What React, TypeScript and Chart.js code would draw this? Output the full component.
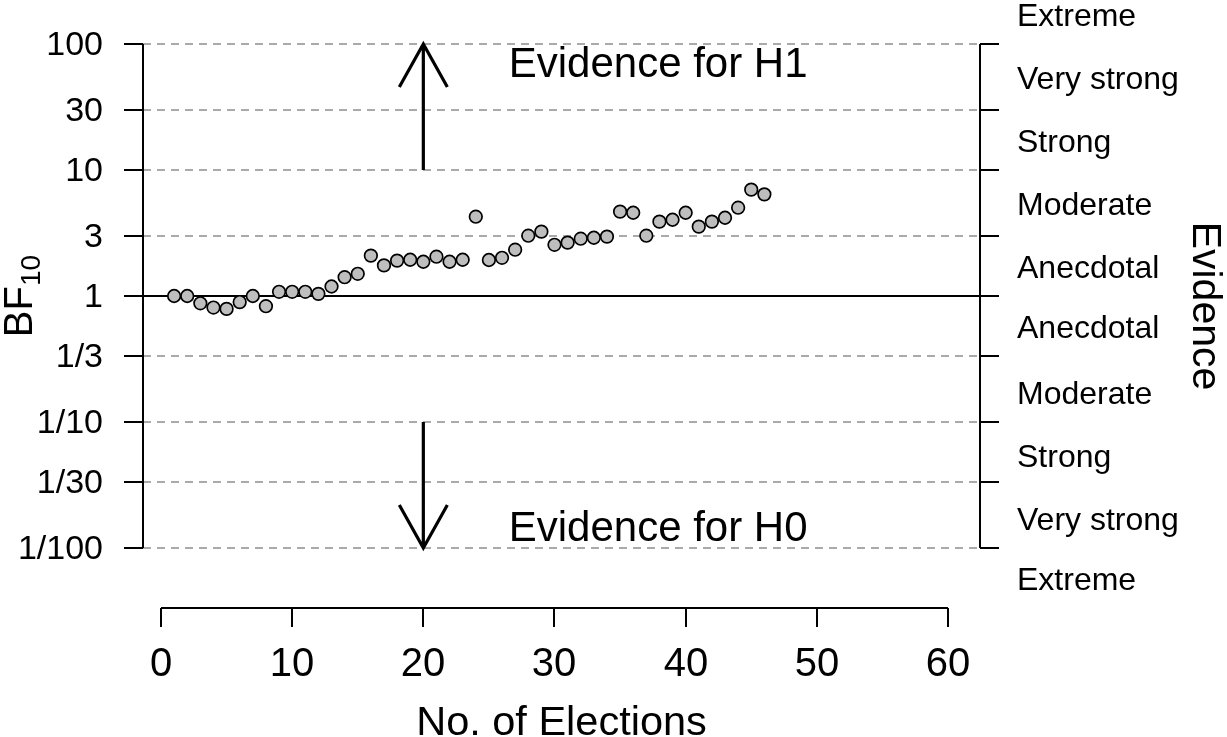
import React, { useEffect, useRef } from "react";
import { Chart, registerables } from "chart.js";

Chart.register(...registerables);

const FONT = '"Liberation Sans", Arial, Helvetica, sans-serif';

// ---- data ----
const electionNumbers = [
  1, 2, 3, 4, 5, 6, 7, 8, 9, 10, 11, 12, 13, 14, 15, 16, 17, 18, 19, 20, 21, 22, 23,
  24, 25, 26, 27, 28, 29, 30, 31, 32, 33, 34, 35, 36, 37, 38, 39, 40, 41, 42, 43, 44, 45, 46,
];
const bf10Values = [
  1.0, 1.0, 0.875, 0.81, 0.79, 0.895, 1.0, 0.83, 1.08, 1.08, 1.08, 1.04, 1.19, 1.41, 1.5,
  2.09, 1.75, 1.91, 1.94, 1.87, 2.05, 1.87, 1.94, 4.26, 1.93, 2.01, 2.33, 3.01, 3.24, 2.55,
  2.65, 2.85, 2.9, 2.96, 4.67, 4.58, 3.01, 3.89, 4.03, 4.58, 3.55, 3.89, 4.18, 5.02, 6.98, 6.41,
];

const yTickValues = [0.01, 1 / 30, 0.1, 1 / 3, 1, 3, 10, 30, 100];
const yTickLabels = ["1/100", "1/30", "1/10", "1/3", "1", "3", "10", "30", "100"];
const xTickValues = [0, 10, 20, 30, 40, 50, 60];
const xTickLabels = ["0", "10", "20", "30", "40", "50", "60"];

const evidenceLabels = [
  "Extreme", "Very strong", "Strong", "Moderate", "Anecdotal",
  "Anecdotal", "Moderate", "Strong", "Very strong", "Extreme",
];
const evidenceLabelValues = [173.2, 54.77, 17.32, 5.477, 1.732, 0.5774, 0.1732, 0.05477, 0.01732, 0.005774];

const arrowX = 20;
const upArrowFrom = 10;
const upArrowTo = 100;
const downArrowFrom = 0.1;
const downArrowTo = 0.01;

const h1Text = "Evidence for H1";
const h0Text = "Evidence for H0";
const hTextX = 37.9;
const h1TextY = 54.77;
const h0TextY = 0.01137;

const xTitle = "No. of Elections";
const yTitleMain = "BF";
const yTitleSub = "10";
const rightTitle = "Evidence";

const X_MIN = -1.372;
const X_MAX = 62.44;
const Y_MIN = 0.01;
const Y_MAX = 100;

export default function App() {
  const ref = useRef<HTMLCanvasElement | null>(null);

  useEffect(() => {
    if (!ref.current) return;

    const decor = {
      id: "bfDecor",
      beforeDatasetsDraw(chart: any) {
        const ctx = chart.ctx as CanvasRenderingContext2D;
        const xs = chart.scales.x;
        const ys = chart.scales.y;
        const area = chart.chartArea;
        ctx.save();

        // dashed grid lines
        ctx.strokeStyle = "#aaaaaa";
        ctx.lineWidth = 2;
        ctx.setLineDash([8, 6]);
        yTickValues.forEach((v) => {
          if (v === 1) return;
          const y = Math.round(ys.getPixelForValue(v));
          ctx.beginPath();
          ctx.moveTo(area.left, y);
          ctx.lineTo(area.right, y);
          ctx.stroke();
        });
        ctx.setLineDash([]);

        // solid line at BF = 1
        ctx.strokeStyle = "#000";
        ctx.lineWidth = 2;
        const y1 = Math.round(ys.getPixelForValue(1));
        ctx.beginPath();
        ctx.moveTo(area.left, y1);
        ctx.lineTo(area.right, y1);
        ctx.stroke();

        // left axis
        const yTop = ys.getPixelForValue(Y_MAX);
        const yBot = ys.getPixelForValue(Y_MIN);
        ctx.beginPath();
        ctx.moveTo(area.left, yTop);
        ctx.lineTo(area.left, yBot);
        ctx.stroke();
        // right axis
        ctx.beginPath();
        ctx.moveTo(area.right, yTop);
        ctx.lineTo(area.right, yBot);
        ctx.stroke();

        ctx.fillStyle = "#000";
        ctx.font = `34px ${FONT}`;
        ctx.textAlign = "right";
        ctx.textBaseline = "middle";
        yTickValues.forEach((v, i) => {
          const y = Math.round(ys.getPixelForValue(v));
          ctx.beginPath();
          ctx.moveTo(area.left - 19, y);
          ctx.lineTo(area.left, y);
          ctx.stroke();
          ctx.beginPath();
          ctx.moveTo(area.right, y);
          ctx.lineTo(area.right + 19, y);
          ctx.stroke();
          ctx.fillText(yTickLabels[i], area.left - 40, y + 2);
        });

        // evidence category labels
        ctx.font = `32px ${FONT}`;
        ctx.textAlign = "left";
        evidenceLabels.forEach((lab, i) => {
          const y = ys.getPixelForValue(evidenceLabelValues[i]);
          ctx.fillText(lab, area.right + 37, y + 3);
        });

        // x axis
        const xAxisY = area.bottom + 60;
        const x0 = xs.getPixelForValue(xTickValues[0]);
        const x1 = xs.getPixelForValue(xTickValues[xTickValues.length - 1]);
        ctx.beginPath();
        ctx.moveTo(x0, xAxisY);
        ctx.lineTo(x1, xAxisY);
        ctx.stroke();
        ctx.font = `40px ${FONT}`;
        ctx.textAlign = "center";
        ctx.textBaseline = "alphabetic";
        xTickValues.forEach((v, i) => {
          const x = Math.round(xs.getPixelForValue(v));
          ctx.beginPath();
          ctx.moveTo(x, xAxisY);
          ctx.lineTo(x, xAxisY + 19);
          ctx.stroke();
          ctx.fillText(xTickLabels[i], x, xAxisY + 68);
        });

        // x title
        ctx.font = `41.5px ${FONT}`;
        ctx.fillText(xTitle, (area.left + area.right) / 2, 735);

        // y title BF_10
        const yc = (area.top + area.bottom) / 2;
        ctx.save();
        ctx.translate(32, yc);
        ctx.rotate(-Math.PI / 2);
        ctx.textAlign = "left";
        ctx.font = `40px ${FONT}`;
        const wMain = ctx.measureText(yTitleMain).width;
        ctx.font = `28px ${FONT}`;
        const wSub = ctx.measureText(yTitleSub).width;
        const start = -(wMain + wSub) / 2;
        ctx.font = `40px ${FONT}`;
        ctx.fillText(yTitleMain, start, 0);
        ctx.font = `28px ${FONT}`;
        ctx.fillText(yTitleSub, start + wMain, 8);
        ctx.restore();

        // right title
        ctx.save();
        ctx.translate(1193, yc + 10);
        ctx.rotate(Math.PI / 2);
        ctx.textAlign = "center";
        ctx.font = `41px ${FONT}`;
        ctx.fillText(rightTitle, 0, 0);
        ctx.restore();

        // arrows
        ctx.lineWidth = 3.2;
        ctx.lineCap = "butt";
        const ax = xs.getPixelForValue(arrowX);
        const uA = ys.getPixelForValue(upArrowFrom);
        const uB = ys.getPixelForValue(upArrowTo);
        ctx.beginPath();
        ctx.moveTo(ax, uA);
        ctx.lineTo(ax, uB);
        ctx.moveTo(ax - 24, uB + 43);
        ctx.lineTo(ax, uB);
        ctx.lineTo(ax + 24, uB + 43);
        ctx.stroke();
        const dA = ys.getPixelForValue(downArrowFrom);
        const dB = ys.getPixelForValue(downArrowTo);
        ctx.beginPath();
        ctx.moveTo(ax, dA);
        ctx.lineTo(ax, dB);
        ctx.moveTo(ax - 24, dB - 43);
        ctx.lineTo(ax, dB);
        ctx.lineTo(ax + 24, dB - 43);
        ctx.stroke();

        // evidence text
        ctx.font = `42px ${FONT}`;
        ctx.textAlign = "center";
        ctx.textBaseline = "alphabetic";
        const tx = xs.getPixelForValue(hTextX);
        ctx.fillText(h1Text, tx, ys.getPixelForValue(h1TextY));
        ctx.fillText(h0Text, tx, ys.getPixelForValue(h0TextY));

        ctx.restore();
      },
    };

    const chart = new Chart(ref.current, {
      type: "scatter",
      data: {
        datasets: [
          {
            data: electionNumbers.map((x, i) => ({ x, y: bf10Values[i] })),
            backgroundColor: "#bebebe",
            borderColor: "#000000",
            borderWidth: 1.7,
            pointRadius: 6.3,
            pointHoverRadius: 6.3,
          },
        ],
      },
      options: {
        animation: false,
        responsive: false,
        devicePixelRatio: 1,
        events: [],
        layout: { padding: { left: 143, right: 247, top: 44, bottom: 189 } },
        plugins: { legend: { display: false }, tooltip: { enabled: false } },
        scales: {
          x: { type: "linear", min: X_MIN, max: X_MAX, display: false },
          y: { type: "logarithmic", min: Y_MIN, max: Y_MAX, display: false },
        },
      },
      plugins: [decor],
    });

    return () => chart.destroy();
  }, []);

  return (
    <div style={{ position: "absolute", left: 0, top: 0, width: 1227, height: 737, background: "#fff" }}>
      <canvas ref={ref} width={1227} height={737} style={{ display: "block", width: 1227, height: 737 }} />
    </div>
  );
}
